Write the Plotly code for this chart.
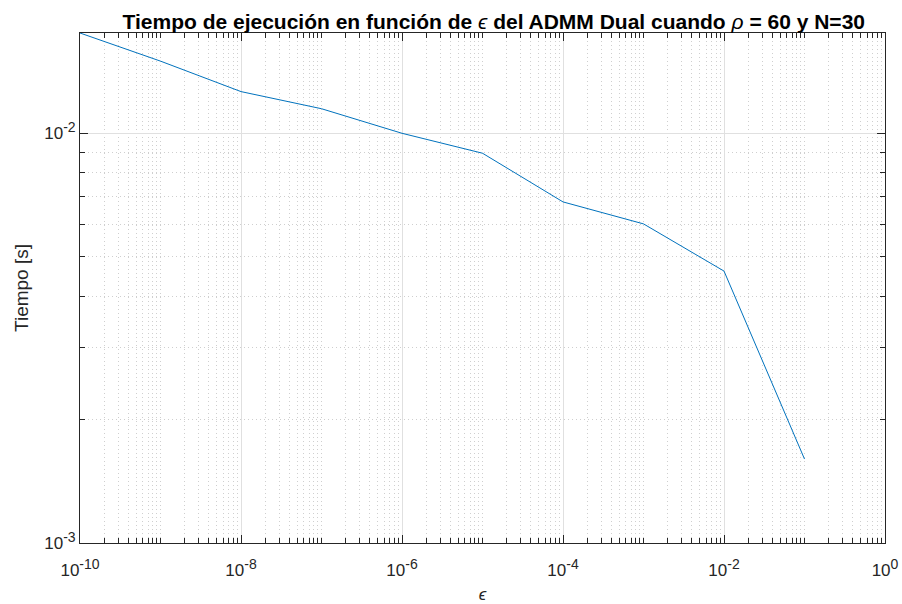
import numpy as np
import plotly.graph_objects as go

# Tolerance values and measured run times of the dual ADMM (rho = 60, N = 30)
epsilon = [1e-10, 1e-9, 1e-8, 1e-7, 1e-6, 1e-5, 1e-4, 1e-3, 1e-2, 1e-1]
tiempo = [0.01757, 0.0150, 0.01264, 0.01148, 0.0100, 0.00894, 0.0068, 0.00601, 0.00461, 0.001603]

x_major = [1e-10, 1e-8, 1e-6, 1e-4, 1e-2, 1e0]
x_exponents = ["-10", "-8", "-6", "-4", "-2", "0"]
y_major = [1e-3, 1e-2]
y_exponents = ["-3", "-2"]


def power_label(exp):
    return "10<sup><span style='font-size:14px'>" + exp + "</span></sup>"


x_labels = [power_label(e) for e in x_exponents]
y_labels = [power_label(e) for e in y_exponents]

x_minor = [m * 10.0 ** k for k in range(-10, 0) for m in range(1, 10)
           if not (m == 1 and k % 2 == 0)]
y_minor = [m * 10.0 ** k for k in (-3, -2) for m in range(2, 10)]

AX = "#262626"
GRID = "#e0e0e0"
MINOR_GRID = "#cfcfcf"
FONT = "Liberation Sans, Arial, sans-serif"

fig = go.Figure(go.Scatter(
    x=epsilon, y=tiempo, mode="lines",
    line=dict(color="#0072BD", width=1),
))

common = dict(
    type="log", showline=True, linecolor=AX, linewidth=1, mirror="allticks",
    ticks="inside", ticklen=8, tickwidth=1, tickcolor=AX,
    showgrid=True, gridcolor=GRID, gridwidth=1, zeroline=False,
    tickfont=dict(family=FONT, size=17, color=AX),
    automargin=False,
)

fig.update_xaxes(
    **common,
    range=[-10, 0], tickvals=x_major, ticktext=x_labels, ticklabelstandoff=12,
    minor=dict(tickvals=x_minor, ticks="inside", ticklen=5, tickcolor=AX,
               showgrid=True, gridcolor=MINOR_GRID, griddash="1px,3px", gridwidth=1),
    title=dict(text="<i>ϵ</i>", font=dict(family=FONT, size=17, color=AX), standoff=16),
)
fig.update_yaxes(
    **common,
    range=[-3, np.log10(tiempo[0])], tickvals=y_major, ticktext=y_labels,
    minor=dict(tickvals=y_minor, ticks="inside", ticklen=5, tickcolor=AX,
               showgrid=True, gridcolor=MINOR_GRID, griddash="1px,3px", gridwidth=1),
    title=dict(text="Tiempo [s]", font=dict(family=FONT, size=19, color=AX), standoff=10),
)

fig.update_layout(
    width=902, height=604,
    margin=dict(l=80, r=17, t=33, b=61),
    paper_bgcolor="white", plot_bgcolor="white",
    showlegend=False,
    title=dict(
        text=("<b>Tiempo de ejecución en función de </b><i>ϵ</i>"
              "<b> del ADMM Dual cuando </b><i>ρ</i><b> = 60 y N=30</b>"),
        font=dict(family=FONT, size=21, color="black"),
        x=0.514, xref="paper", xanchor="center",
        y=1, yref="paper", yanchor="bottom", pad=dict(b=4),
    ),
)

fig.write_html("out.html")
